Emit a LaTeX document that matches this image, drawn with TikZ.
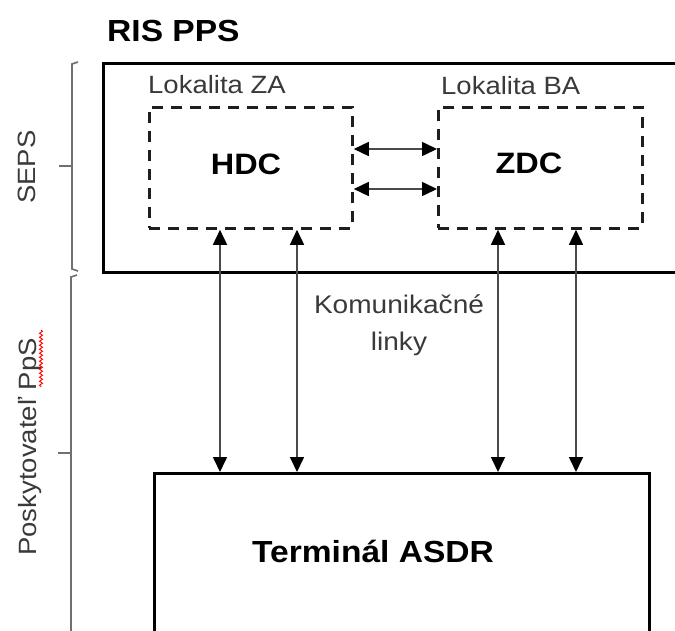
\documentclass[tikz,border=0pt]{standalone}
\usepackage{fontspec}
\setmainfont{Liberation Sans}[FakeStretch=1.1]
\usetikzlibrary{arrows.meta,decorations.pathmorphing}
\definecolor{txtgray}{HTML}{3A3A3A}
\definecolor{brgray}{HTML}{707070}
\definecolor{lngray}{HTML}{4A4A4A}
\definecolor{dashc}{HTML}{1E1E1E}
\tikzset{
  solidbox/.style={draw=black, line width=2.8pt, inner sep=0pt, anchor=north west},
  dashbox/.style={draw=dashc, line width=2.8pt, dash pattern=on 11pt off 8pt, inner sep=0pt, anchor=north west},
  boldtxt/.style={inner sep=0pt, text=black, font=\fontsize{29.5}{34}\selectfont\bfseries},
  regtxt/.style={inner sep=0pt, text=txtgray, font=\fontsize{25}{30}\selectfont},
  bracketline/.style={draw=brgray, line width=1.7pt},
  biarrow/.style={draw=lngray, line width=1.6pt,
    {Triangle[length=15pt,width=14pt,color=black]}-{Triangle[length=15pt,width=14pt,color=black]}}
}
\begin{document}
\begin{tikzpicture}[x=1pt,y=-1pt]
\useasboundingbox[fill=white] (0,0) rectangle (675,630);

% title
\node[boldtxt, anchor=base west, font=\fontsize{30.5}{34}\selectfont\bfseries] (title) at (107,41) {RIS PPS};

% outer SEPS box (extends beyond the right edge)
\node[solidbox, minimum width=700pt, minimum height=209pt] (outer) at (102,62) {};

% location labels
\node[regtxt, anchor=base west] (lokza) at (148,93) {Lokalita ZA};
\node[regtxt, anchor=base west] (lokba) at (441,94) {Lokalita BA};

% dashed data-centre boxes
\node[dashbox, minimum width=203pt, minimum height=121pt] (hdc) at (148,106) {};
\node[dashbox, minimum width=204pt, minimum height=121pt] (zdc) at (437,106) {};
\node[boldtxt, anchor=base] (hdctxt) at (246,174) {HDC};
\node[boldtxt, anchor=base] (zdctxt) at (529,173) {ZDC};

% terminal box (extends beyond the bottom edge)
\node[solidbox, minimum width=495pt, minimum height=300pt] (term) at (153,472) {};
\node[boldtxt, anchor=base, font=\fontsize{30.5}{34}\selectfont\bfseries] (termtxt) at (373,562) {Terminál ASDR};

% communication label
\node[regtxt, anchor=base, align=center, font=\fontsize{25.5}{37}\selectfont] (kom) at (399,350) {Komunikačné\\linky};

% horizontal links between HDC and ZDC
\coordinate (h1) at (0,149);
\coordinate (h2) at (0,189);
\draw[biarrow] (hdc.east |- h1) -- (zdc.west |- h1);
\draw[biarrow] (hdc.east |- h2) -- (zdc.west |- h2);

% vertical links to the terminal
\coordinate (v1) at (220,0);
\coordinate (v2) at (297,0);
\coordinate (v3) at (498,0);
\coordinate (v4) at (576,0);
\draw[biarrow] (hdc.south -| v1) -- (term.north -| v1);
\draw[biarrow] (hdc.south -| v2) -- (term.north -| v2);
\draw[biarrow] (zdc.south -| v3) -- (term.north -| v3);
\draw[biarrow] (zdc.south -| v4) -- (term.north -| v4);

% left brackets
\draw[bracketline] (78,62) -- (72,64) -- (72,269) -- (78,271);
\draw[bracketline] (59,166) -- (72,166);
\draw[bracketline] (77,275) -- (71,277) -- (71,640);
\draw[bracketline] (58,453) -- (71,453);

% side labels
\node[regtxt, rotate=90, anchor=base] (seps) at (35,167) {SEPS};
\node[regtxt, rotate=90, anchor=base] (pps) at (36,447) {Poskytovateľ PpS};
\draw[red, line width=0.9pt, decorate, decoration={snake, amplitude=1.5pt, segment length=4pt}] (41,330) -- (41,387);
\end{tikzpicture}
\end{document}
